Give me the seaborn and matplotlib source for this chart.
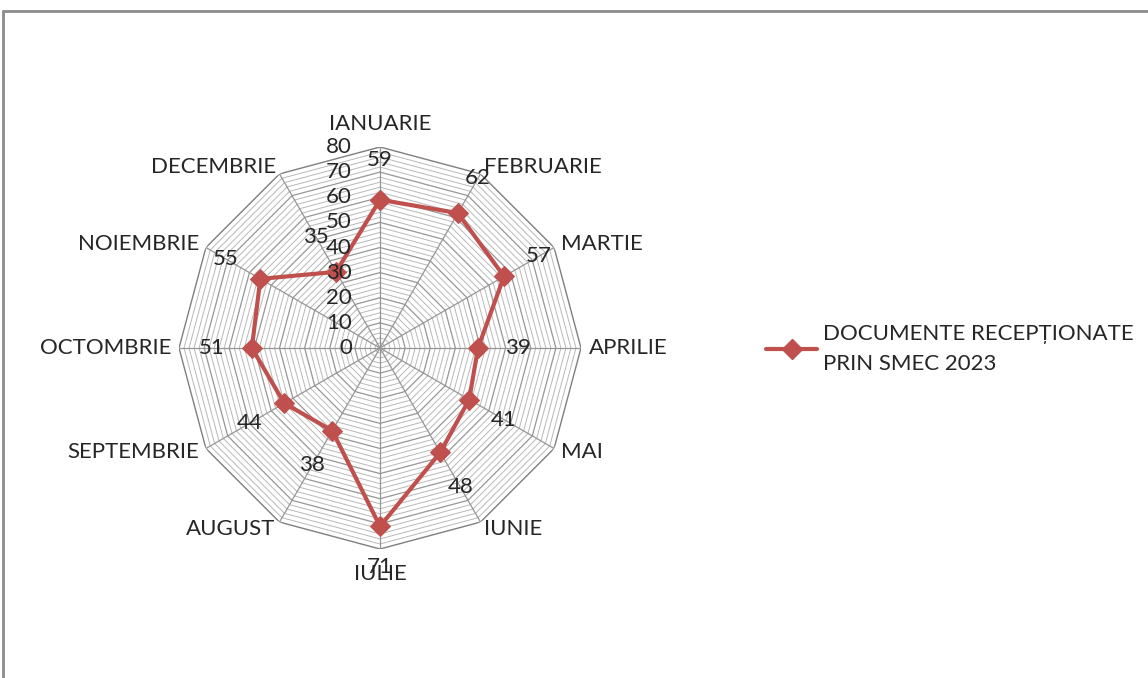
import numpy as np
import seaborn as sns
import matplotlib.pyplot as plt
from matplotlib.lines import Line2D

# data
months = ['IANUARIE', 'FEBRUARIE', 'MARTIE', 'APRILIE', 'MAI', 'IUNIE',
          'IULIE', 'AUGUST', 'SEPTEMBRIE', 'OCTOMBRIE', 'NOIEMBRIE', 'DECEMBRIE']
docs = [59, 62, 57, 39, 41, 48, 71, 38, 44, 51, 55, 35]
series_name = 'DOCUMENTE RECEPȚIONATE\nPRIN SMEC 2023'
r_ticks = [0, 10, 20, 30, 40, 50, 60, 70, 80]

sns.set_style('white')
plt.rcParams['font.family'] = ['Lato', 'DejaVu Sans']

red = '#C0504D'
fs = 16
n = len(months)
theta = np.linspace(0, 2 * np.pi, n, endpoint=False)
theta_c = np.append(theta, 2 * np.pi)

fig = plt.figure(figsize=(11.48, 6.78), dpi=100)

# outer frame of the chart area (only top and left visible)
fig.add_artist(Line2D([0.003, 1.0], [0.984, 0.984], color='#8c8c8c', lw=2))
fig.add_artist(Line2D([0.003, 0.003], [0.0, 0.984], color='#8c8c8c', lw=2))

cx, cy, rad = 380, 348, 201
ax = fig.add_axes([(cx - rad) / 1148, (678 - cy - rad) / 678, 2 * rad / 1148, 2 * rad / 678],
                  projection='polar')
ax.set_theta_zero_location('N')
ax.set_theta_direction(-1)
ax.set_ylim(0, 80)
ax.grid(False)
ax.spines['polar'].set_visible(False)
ax.set_xticks([])
ax.set_yticks([])
ax.patch.set_alpha(0)

# polygon grid
for r in range(2, 81, 2):
    if r == 80:
        c, w = '#7f7f7f', 1.0
    elif r % 10 == 0:
        c, w = '#969696', 0.9
    else:
        c, w = '#b8b8b8', 0.7
    ax.plot(theta_c, [r] * (n + 1), color=c, lw=w, zorder=1)
for t in theta:
    ax.plot([t, t], [0, 80], color='#969696', lw=0.9, zorder=1)

# series
sns.lineplot(x=theta_c, y=docs + docs[:1], sort=False, ax=ax, color=red, lw=3,
             marker='D', markersize=10, markeredgecolor=red, label=series_name,
             legend=False, zorder=3)

# month labels
for t, m in zip(theta, months):
    deg = np.degrees(t)
    if deg == 0:
        ax.text(t, 85, m, ha='center', va='bottom', fontsize=fs)
    elif deg == 180:
        ax.text(t, 86, m, ha='center', va='top', fontsize=fs)
    elif deg < 180:
        ax.text(t, 83, m, ha='left', va='center', fontsize=fs)
    else:
        ax.text(t, 83, m, ha='right', va='center', fontsize=fs)

# radial tick labels
for v in r_ticks:
    ax.annotate(str(v), xy=(0, v), xytext=(-28, 0), textcoords='offset pixels',
                ha='right', va='center', fontsize=fs, color='#262626')

# data labels
for t, v in zip(theta, docs):
    ax.text(t, v + 16, str(v), ha='center', va='center', fontsize=fs, color='#262626')

handle = Line2D([], [], color=red, lw=3, marker='D', markersize=10, markeredgecolor=red)
leg = fig.legend([handle], [series_name], loc='center left',
                 bbox_to_anchor=(746 / 1148, 1 - 349 / 678),
                 frameon=False, fontsize=fs, handlelength=2.3, handletextpad=0.25)
leg.get_texts()[0].set_linespacing(1.6)

fig.savefig('out.png', dpi=100)
